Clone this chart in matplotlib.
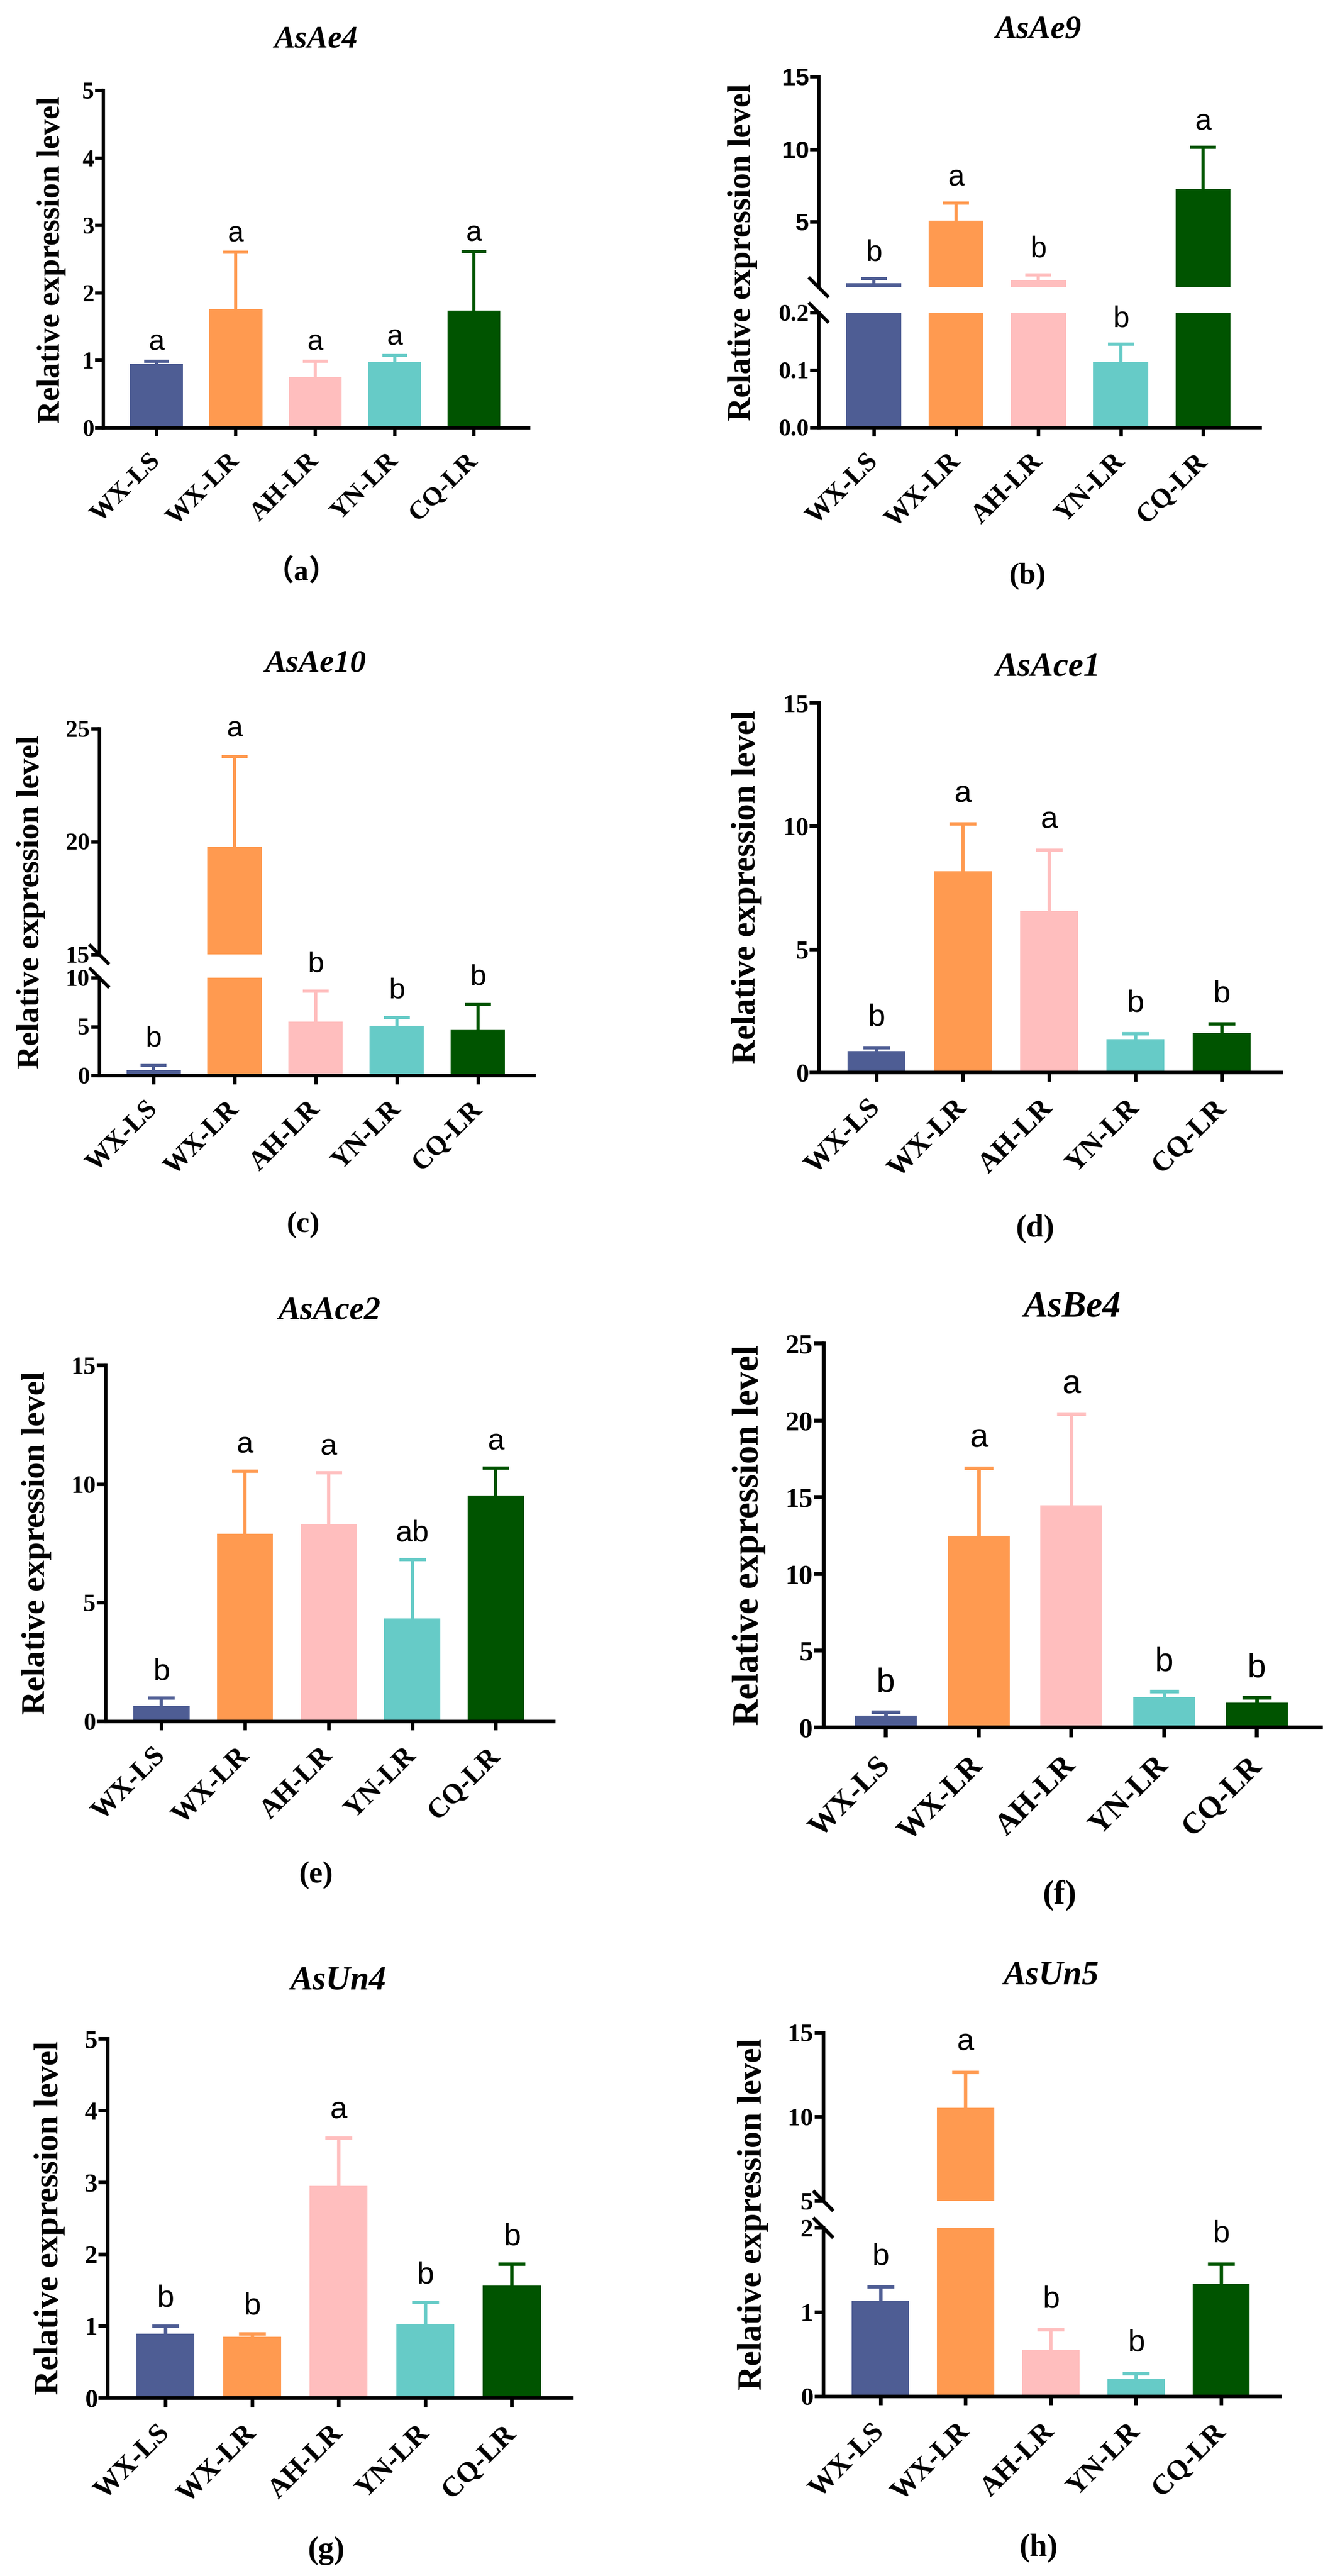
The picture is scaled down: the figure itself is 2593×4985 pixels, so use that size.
import matplotlib
matplotlib.use('Agg')
import matplotlib.pyplot as plt
from matplotlib.lines import Line2D
import numpy as np

W, H = 2593, 4985
DPI = 100

categories = ['WX-LS', 'WX-LR', 'AH-LR', 'YN-LR', 'CQ-LR']
colors = ['#4E5D94', '#FF9A50', '#FFBEBE', '#66CBC7', '#005400']

genes = ['AsAe4', 'AsAe9', 'AsAe10', 'AsAce1', 'AsAce2', 'AsBe4', 'AsUn4', 'AsUn5']
panel_labels = ['（a）', '(b)', '(c)', '(d)', '(e)', '(f)', '(g)', '(h)']

# mean relative expression and upper SD for each gene
mean_AsAe4 = [0.95, 1.76, 0.75, 0.98, 1.74]
sd_AsAe4 = [0.04, 0.84, 0.24, 0.09, 0.87]
letters_AsAe4 = ['a', 'a', 'a', 'a', 'a']

mean_AsAe9 = [0.80, 5.07, 1.01, 0.114, 7.27]
sd_AsAe9 = [0.32, 1.21, 0.36, 0.031, 2.85]
letters_AsAe9 = ['b', 'a', 'b', 'b', 'a']

mean_AsAe10 = [0.52, 19.76, 5.5, 5.08, 4.7]
sd_AsAe10 = [0.46, 4.01, 3.1, 0.82, 2.56]
letters_AsAe10 = ['b', 'a', 'b', 'b', 'b']

mean_AsAce1 = [0.87, 8.16, 6.54, 1.35, 1.60]
sd_AsAce1 = [0.14, 1.93, 2.49, 0.23, 0.37]
letters_AsAce1 = ['b', 'a', 'a', 'b', 'b']

mean_AsAce2 = [0.66, 7.90, 8.32, 4.33, 9.51]
sd_AsAce2 = [0.32, 2.64, 2.15, 2.49, 1.16]
letters_AsAce2 = ['b', 'a', 'a', 'ab', 'a']

mean_AsBe4 = [0.78, 12.5, 14.47, 1.99, 1.62]
sd_AsBe4 = [0.22, 4.4, 5.95, 0.35, 0.32]
letters_AsBe4 = ['b', 'a', 'a', 'b', 'b']

mean_AsUn4 = [0.89, 0.85, 2.95, 1.03, 1.56]
sd_AsUn4 = [0.11, 0.045, 0.67, 0.30, 0.30]
letters_AsUn4 = ['b', 'b', 'a', 'b', 'b']

mean_AsUn5 = [1.13, 10.53, 0.55, 0.20, 1.33]
sd_AsUn5 = [0.17, 2.10, 0.24, 0.07, 0.24]
letters_AsUn5 = ['b', 'a', 'b', 'b', 'b']

means = [mean_AsAe4, mean_AsAe9, mean_AsAe10, mean_AsAce1, mean_AsAce2, mean_AsBe4, mean_AsUn4, mean_AsUn5]
sds = [sd_AsAe4, sd_AsAe9, sd_AsAe10, sd_AsAce1, sd_AsAce2, sd_AsBe4, sd_AsUn4, sd_AsUn5]
letters = [letters_AsAe4, letters_AsAe9, letters_AsAe10, letters_AsAce1, letters_AsAce2,
           letters_AsBe4, letters_AsUn4, letters_AsUn5]

SERIF = 'Liberation Serif'
SANS = 'Liberation Sans'

# layout in pixels (x from left, y from top)
layout = [
    dict(left=200, right=1023, segs=[dict(top=175, bottom=828, ylim=(0, 5), ticks=[0, 1, 2, 3, 4, 5], labels=None, font=SERIF)],
         title=(611, 77), plabel=(583, 1108), ylab=(100, 503), k=0.97, gap=21),
    dict(left=1584, right=2438, segs=[dict(top=148, bottom=556, ylim=(0.5, 15), ticks=[5, 10, 15], labels=None, font=SANS),
                                      dict(top=605, bottom=827, ylim=(0, 0.2), ticks=[0, 0.1, 0.2], labels=['0.0', '0.1', '0.2'], font=SERIF)],
         title=(2009, 58), plabel=(1988, 1115), ylab=(1437, 488), k=1.0, gap=34),
    dict(left=192, right=1033, segs=[dict(top=1410, bottom=1847, ylim=(15, 25), ticks=[15, 20, 25], labels=None, font=SERIF),
                                     dict(top=1892, bottom=2081, ylim=(0, 10), ticks=[0, 5, 10], labels=None, font=SERIF)],
         title=(610, 1284), plabel=(587, 2370), ylab=(60, 1745), k=0.99, gap=38),
    dict(left=1584, right=2479, segs=[dict(top=1360, bottom=2075, ylim=(0, 15), ticks=[0, 5, 10, 15], labels=None, font=SERIF)],
         title=(2027, 1292), plabel=(2003, 2378), ylab=(1445, 1717), k=1.05, gap=42),
    dict(left=204, right=1071, segs=[dict(top=2642, bottom=3331, ylim=(0, 15), ticks=[0, 5, 10, 15], labels=None, font=SERIF)],
         title=(637, 2538), plabel=(611, 3628), ylab=(71, 2986), k=1.02, gap=35),
    dict(left=1594, right=2556, segs=[dict(top=2600, bottom=3343, ylim=(0, 25), ticks=[0, 5, 10, 15, 20, 25], labels=None, font=SERIF)],
         title=(2075, 2530), plabel=(2050, 3668), ylab=(1449, 2971), k=1.13, gap=40),
    dict(left=208, right=1106, segs=[dict(top=3945, bottom=4640, ylim=(0, 5), ticks=[0, 1, 2, 3, 4, 5], labels=None, font=SERIF)],
         title=(654, 3833), plabel=(631, 4936), ylab=(96, 4292), k=1.05, gap=37),
    dict(left=1593, right=2477, segs=[dict(top=3933, bottom=4259, ylim=(5, 15), ticks=[5, 10, 15], labels=None, font=SERIF),
                                      dict(top=4311, bottom=4637, ylim=(0, 2), ticks=[0, 1, 2], labels=None, font=SERIF)],
         title=(2034, 3824), plabel=(2010, 4931), ylab=(1457, 4285), k=1.045, gap=43),
]

PX2PT = 72.0 / DPI

fig = plt.figure(figsize=(W / DPI, H / DPI), dpi=DPI)
fig.patch.set_facecolor('white')


def fx(x):
    return x / W


def fy(y):
    return 1 - y / H


def draw_panel(p, gene, plabel, mvals, svals, lets):
    k = p['k']
    x = np.arange(len(categories))
    segs = p['segs']
    axes = []
    lw = 4.8 * k
    for i, seg in enumerate(segs):
        ax = fig.add_axes([fx(p['left']), fy(seg['bottom']),
                           (p['right'] - p['left']) / W, (seg['bottom'] - seg['top']) / H])
        ax.patch.set_alpha(0)
        ax.bar(x, mvals, width=0.67, color=colors, zorder=2)
        for xi, m, s, c in zip(x, mvals, svals, colors):
            eb = ax.errorbar(xi, m, yerr=[[0], [s]], fmt='none', ecolor=c,
                             elinewidth=4.5 * k, capsize=18 * k, capthick=4.5 * k, zorder=1)
            caps = eb[1]
            if len(caps) == 2:
                caps[0].set_visible(False)
        ax.set_xlim(-0.67, 4.69)
        ax.set_ylim(seg['ylim'])
        ax.set_yticks(seg['ticks'])
        labs = seg['labels'] if seg['labels'] is not None else [str(t) for t in seg['ticks']]
        ax.set_yticklabels(labs, fontfamily=seg['font'], fontweight='bold', fontsize=34 * k)
        ax.spines['top'].set_visible(False)
        ax.spines['right'].set_visible(False)
        ax.spines['left'].set_linewidth(lw)
        ax.tick_params(axis='y', length=12 * k, width=lw, direction='out', pad=1.5)
        if i == len(segs) - 1:
            ax.spines['bottom'].set_linewidth(lw)
            ax.set_xticks(x)
            ax.set_xticklabels(categories, rotation=45, ha='right', va='center',
                               rotation_mode='anchor', fontfamily=SERIF,
                               fontweight='bold', fontsize=38 * k)
            ax.tick_params(axis='x', length=12 * k, width=lw, direction='out', pad=30 * k)
        else:
            ax.spines['bottom'].set_visible(False)
            ax.set_xticks([])
        axes.append(ax)

    # break marks
    if len(segs) > 1:
        d = 17
        for j in range(len(segs) - 1):
            for yy in (segs[j]['bottom'], segs[j + 1]['top']):
                fig.add_artist(Line2D([fx(p['left'] - d), fx(p['left'] + d)],
                                      [fy(yy - d), fy(yy + d)],
                                      transform=fig.transFigure, color='black', lw=lw))

    # significance letters
    for xi, m, s, L in zip(x, mvals, svals, lets):
        top = m + s
        for ax, seg in zip(axes, segs):
            if seg['ylim'][0] <= top <= seg['ylim'][1]:
                ax.annotate(L, (xi, top), xytext=(0, p['gap'] * PX2PT), textcoords='offset points',
                            ha='center', va='baseline', fontfamily=SANS, fontsize=41 * k,
                            annotation_clip=False)
                break

    fig.text(fx(p['title'][0]), fy(p['title'][1]), gene, ha='center', va='center',
             fontfamily=SERIF, fontweight='bold', fontstyle='italic', fontsize=45 * k)
    fig.text(fx(p['ylab'][0]), fy(p['ylab'][1]), 'Relative expression level', rotation=90,
             ha='center', va='center', fontfamily=SERIF, fontweight='bold', fontsize=45 * k)
    fig.text(fx(p['plabel'][0]), fy(p['plabel'][1]), plabel, ha='center', va='center',
             fontfamily=[SERIF, 'Noto Sans CJK SC'], fontweight='bold', fontsize=42 * k)


for p, g, pl, m, s, L in zip(layout, genes, panel_labels, means, sds, letters):
    draw_panel(p, g, pl, m, s, L)

fig.savefig('out.png', dpi=DPI, facecolor='white')
